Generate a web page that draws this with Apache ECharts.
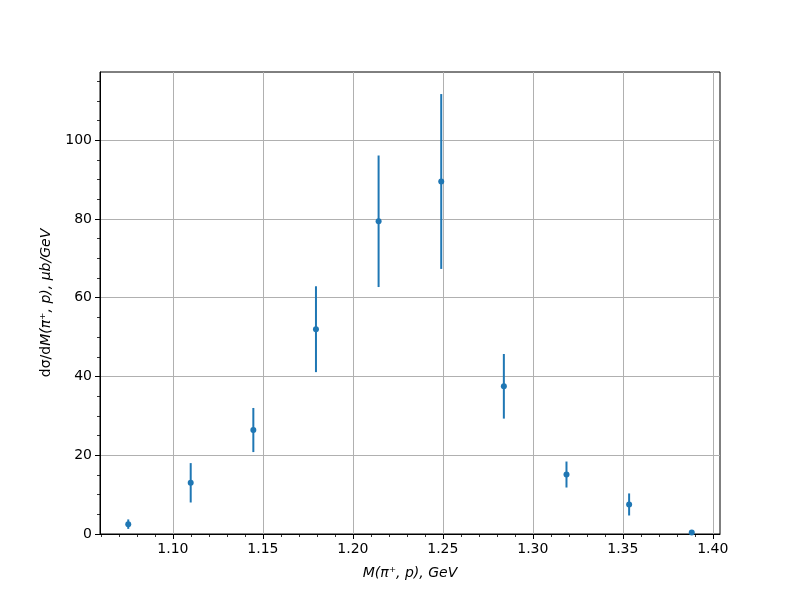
<!DOCTYPE html>
<html>
<head>
<meta charset="utf-8">
<script src="https://cdn.jsdelivr.net/npm/echarts@6/dist/echarts.min.js"></script>
<style>html,body{margin:0;padding:0;background:#fff}#c{width:800px;height:600px}</style>
</head>
<body>
<div id="c"></div>
<script>
const xValues = [1.0752, 1.1099, 1.1447, 1.1795, 1.2143, 1.2491, 1.2839, 1.3187, 1.3535, 1.3883];
const yValues = [2.5, 13.0, 26.4, 52.0, 79.4, 89.5, 37.5, 15.1, 7.5, 0.4];
const yErrors = [1.2, 5.0, 5.6, 10.9, 16.7, 22.2, 8.2, 3.3, 2.8, 0.3];
const xTicks = [1.10, 1.15, 1.20, 1.25, 1.30, 1.35, 1.40];
const xMinorTicks = [1.06,1.07,1.08,1.09,1.11,1.12,1.13,1.14,1.16,1.17,1.18,1.19,1.21,1.22,1.23,1.24,1.26,1.27,1.28,1.29,1.31,1.32,1.33,1.34,1.36,1.37,1.38,1.39];
const yTicks = [0, 20, 40, 60, 80, 100];
const yMinorTicks = [5,10,15,25,30,35,45,50,55,65,70,75,85,90,95,105,110,115];

const xMin = 1.0595, xMax = 1.404, yMin = 0, yMax = 117.3;
const blue = '#1f77b4';
const font = 'DejaVu Sans';

const points = xValues.map((x, i) => [x, yValues[i]]);
const bars = xValues.map((x, i) => [x, yValues[i] - yErrors[i], yValues[i] + yErrors[i]]);

const chart = echarts.init(document.getElementById('c'), null, {renderer: 'canvas'});
const option = {
  animation: false,
  backgroundColor: '#fff',
  grid: {left: 100, right: 80, top: 72, bottom: 66, show: true, borderColor: '#000', borderWidth: 1, backgroundColor: 'transparent'},
  xAxis: [
    {
      type: 'value', min: xMin, max: xMax, position: 'bottom',
      axisLine: {show: true, onZero: false, lineStyle: {color: '#000', width: 1}},
      axisTick: {show: true, length: 5, customValues: xTicks, lineStyle: {color: '#000', width: 1}},
      axisLabel: {customValues: xTicks, formatter: v => v.toFixed(2), color: '#000', fontFamily: font, fontSize: 14, margin: 8},
      splitLine: {show: true, lineStyle: {color: '#b0b0b0', width: 1}},
      name: 'M(π⁺, p), GeV', nameLocation: 'middle', nameGap: 32,
      nameTextStyle: {color: '#000', fontFamily: font, fontSize: 14, fontStyle: 'italic'}
    },
    {
      type: 'value', min: xMin, max: xMax, position: 'bottom',
      axisLine: {show: false, onZero: false},
      axisTick: {show: true, length: 3, customValues: xMinorTicks, lineStyle: {color: '#000', width: 0.8}},
      axisLabel: {show: false},
      splitLine: {show: false}
    }
  ],
  yAxis: [
    {
      type: 'value', min: yMin, max: yMax, position: 'left',
      axisLine: {show: true, onZero: false, lineStyle: {color: '#000', width: 1}},
      axisTick: {show: true, length: 5, customValues: yTicks, lineStyle: {color: '#000', width: 1}},
      axisLabel: {customValues: yTicks, color: '#000', fontFamily: font, fontSize: 14, margin: 8},
      splitLine: {show: true, lineStyle: {color: '#b0b0b0', width: 1}},
      name: '{u|dσ/d}{i|M(π⁺, p), μb/GeV}', nameLocation: 'middle', nameGap: 47,
      nameTextStyle: {
        color: '#000', fontFamily: font, fontSize: 14,
        rich: {
          u: {fontFamily: font, fontSize: 14, color: '#000'},
          i: {fontFamily: font, fontSize: 14, color: '#000', fontStyle: 'italic'}
        }
      }
    },
    {
      type: 'value', min: yMin, max: yMax, position: 'left',
      axisLine: {show: false, onZero: false},
      axisTick: {show: true, length: 3, customValues: yMinorTicks, lineStyle: {color: '#000', width: 0.8}},
      axisLabel: {show: false},
      splitLine: {show: false}
    }
  ],
  series: [
    {
      type: 'custom', xAxisIndex: 0, yAxisIndex: 0, data: bars,
      renderItem: function (params, api) {
        const p1 = api.coord([api.value(0), api.value(1)]);
        const p2 = api.coord([api.value(0), api.value(2)]);
        return {type: 'line', shape: {x1: p1[0], y1: p1[1], x2: p2[0], y2: p2[1]}, style: {stroke: blue, lineWidth: 2}};
      },
      z: 2
    },
    {
      type: 'scatter', xAxisIndex: 0, yAxisIndex: 0, data: points,
      symbol: 'circle', symbolSize: 6, itemStyle: {color: blue, opacity: 1}, z: 3
    }
  ]
};
chart.setOption(option);
</script>
</body>
</html>
